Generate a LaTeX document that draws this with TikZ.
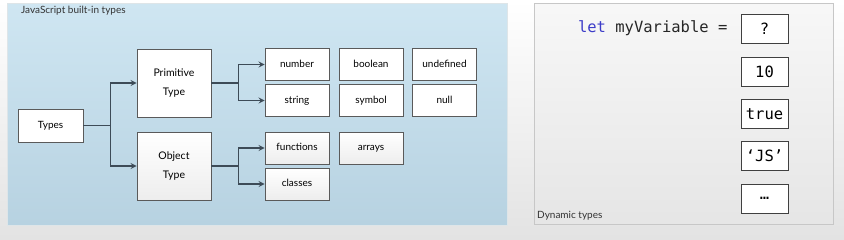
\documentclass[tikz,border=0pt]{standalone}
\usepackage{fontspec}
\setmainfont{Lato}
\setmonofont{DejaVu Sans Mono}
\usepackage{tikz}
\usetikzlibrary{arrows,positioning}
\usepackage{xcolor}
\definecolor{panelblue}{RGB}{207,230,242}
\definecolor{panelbluedark}{RGB}{183,210,225}
\definecolor{linkgray}{RGB}{61,75,87}
\definecolor{boxedge}{RGB}{90,90,90}
\definecolor{keyblue}{RGB}{60,60,200}

\tikzset{
  typebox/.style={draw=boxedge,line width=0.9pt,fill=white,minimum width=64pt,minimum height=32pt,inner sep=0pt,text height=7.5pt,text depth=2.5pt,font=\fontsize{10}{12}\selectfont},
  bigbox/.style={draw=boxedge,line width=0.9pt,fill=white,minimum width=74pt,minimum height=68pt,inner sep=0pt,align=center,font=\fontsize{10.5}{19.5}\selectfont},
  objbox/.style={top color=white,bottom color=black!7},
  valbox/.style={draw=black!75,line width=0.9pt,fill=white,minimum width=47pt,minimum height=29pt,inner sep=0pt,font=\ttfamily\fontsize{15.5}{18}\selectfont},
  conn/.style={draw=linkgray,line width=1.6pt,->,>=stealth},
  caption/.style={font=\fontsize{10}{12}\selectfont,text=black!80,inner sep=0pt}
}

\begin{document}
\begin{tikzpicture}[x=1pt,y=-1pt]
\useasboundingbox (0,0) rectangle (844,239);
\shade[top color=white,bottom color=black!11] (0,0) rectangle (844,239);

% left panel
\shade[top color=panelblue,bottom color=panelbluedark,draw=panelbluedark!80!black!30] (7,3) rectangle (507,225);
\node[caption,anchor=west] (title) at (21,11) {JavaScript built-in types};

\node[typebox,minimum width=65pt,minimum height=33pt] (types) at (50.5,125.5) {Types};
\node[bigbox] (prim) at (174,83) {Primitive\\Type};
\node[bigbox,objbox] (obj) at (174,166) {Object\\Type};

\node[typebox] (number) at (297,64.5) {number};
\node[typebox] (string) at (297,100.5) {string};
\node[typebox] (boolean) at (371,64.5) {boolean};
\node[typebox] (symbol) at (371,100.5) {symbol};
\node[typebox] (undefined) at (444.5,64.5) {undefined};
\node[typebox] (null) at (444.5,100.5) {null};
\node[typebox,objbox] (functions) at (297,148) {functions};
\node[typebox,objbox] (classes) at (297,184) {classes};
\node[typebox,objbox] (arrays) at (371,148) {arrays};

\draw[conn] (types.east) -- ++(27,0) |- (prim.west);
\draw[conn] (types.east) -- ++(27,0) |- (obj.west);
\draw[conn] (prim.east) -- ++(27,0) |- (number.west);
\draw[conn] (prim.east) -- ++(27,0) |- (string.west);
\draw[conn] (obj.east) -- ++(27,0) |- (functions.west);
\draw[conn] (obj.east) -- ++(27,0) |- (classes.west);

% right panel
\shade[top color=black!3,bottom color=black!10,draw=black!22] (534,3) rectangle (833,224);
\node[caption,anchor=south west] (dyn) at (537,220) {Dynamic types};

\foreach \v/\y [count=\i] in {?/28.5,10/71.5,true/114,{‘JS’}/156,…/198.5}
  \node[valbox] (val\i) at (764.5,\y) {\v};
\node[left=13pt of val1,inner sep=0pt,font=\ttfamily\fontsize{15.5}{18}\selectfont,text=black!85] (decl) {\textcolor{keyblue}{let} myVariable =};
\end{tikzpicture}
\end{document}
